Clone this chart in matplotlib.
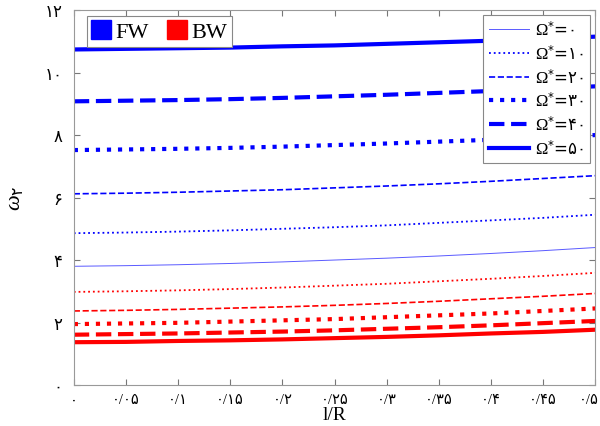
import matplotlib
matplotlib.use('Agg')
import matplotlib.pyplot as plt
import matplotlib.patches as patches
import matplotlib.transforms as mtransforms

plt.rcParams['font.family'] = ['Liberation Serif', 'DejaVu Sans']
# math text: digits from DejaVu Sans (has the Persian digits), letters serif
plt.rcParams['mathtext.fontset'] = 'custom'
plt.rcParams['mathtext.rm'] = 'DejaVu Sans'
plt.rcParams['mathtext.it'] = 'Liberation Serif:italic'
plt.rcParams['mathtext.bf'] = 'Liberation Serif'

# l/R samples and natural frequencies (forward / backward whirl)
l_R = [0.0, 0.05, 0.1, 0.15, 0.2, 0.25, 0.3, 0.35, 0.4, 0.45, 0.5]
omega_0 = [3.80, 3.82, 3.85, 3.89, 3.94, 4.00, 4.06, 4.13, 4.21, 4.30, 4.40]
fw_10 = [4.86, 4.88, 4.91, 4.95, 5.00, 5.05, 5.11, 5.19, 5.27, 5.35, 5.45]
fw_20 = [6.12, 6.14, 6.17, 6.21, 6.25, 6.31, 6.37, 6.44, 6.52, 6.61, 6.70]
fw_30 = [7.52, 7.54, 7.56, 7.59, 7.63, 7.68, 7.73, 7.79, 7.85, 7.92, 8.00]
fw_40 = [9.08, 9.10, 9.12, 9.15, 9.19, 9.24, 9.29, 9.35, 9.41, 9.48, 9.56]
fw_50 = [10.74, 10.76, 10.78, 10.80, 10.84, 10.87, 10.92, 10.97, 11.02, 11.08, 11.15]
bw_10 = [2.98, 3.00, 3.03, 3.07, 3.12, 3.18, 3.24, 3.32, 3.40, 3.49, 3.59]
bw_20 = [2.37, 2.39, 2.42, 2.46, 2.50, 2.55, 2.61, 2.68, 2.76, 2.84, 2.93]
bw_30 = [1.95, 1.97, 1.99, 2.03, 2.07, 2.11, 2.17, 2.23, 2.29, 2.37, 2.45]
bw_40 = [1.61, 1.63, 1.65, 1.68, 1.71, 1.75, 1.80, 1.85, 1.91, 1.98, 2.05]
bw_50 = [1.37, 1.38, 1.41, 1.43, 1.46, 1.50, 1.54, 1.59, 1.65, 1.70, 1.77]

speed_labels = ['۰', '۱۰', '۲۰', '۳۰', '۴۰', '۵۰']
x_ticks = [0.0, 0.05, 0.1, 0.15, 0.2, 0.25, 0.3, 0.35, 0.4, 0.45, 0.5]
x_tick_labels = ['۰', '۰/۰۵', '۰/۱', '۰/۱۵', '۰/۲', '۰/۲۵', '۰/۳', '۰/۳۵', '۰/۴', '۰/۴۵', '۰/۵']
y_ticks = [0, 2, 4, 6, 8, 10, 12]
y_tick_labels = ['۰', '۲', '۴', '۶', '۸', '۱۰', '۱۲']

# (linestyle, linewidth) per rotating speed
styles = [('-', 0.7), (':', 1.3), ('--', 1.2), (':', 3.0), ('--', 3.0), ('-', 3.0)]

fig = plt.figure(figsize=(6.0, 4.27), dpi=100)
ax = fig.add_axes([0.123, 0.096, 0.869, 0.878])

fw_sets = [omega_0, fw_10, fw_20, fw_30, fw_40, fw_50]
bw_sets = [None, bw_10, bw_20, bw_30, bw_40, bw_50]

line_handles = []
for i, (ls, lw) in enumerate(styles):
    color = '#5a5aff' if i == 0 else 'blue'
    h, = ax.plot(l_R, fw_sets[i], color=color, linestyle=ls, linewidth=lw)
    line_handles.append(h)
    if bw_sets[i] is not None:
        ax.plot(l_R, bw_sets[i], color='red', linestyle=ls, linewidth=lw)

ax.set_xlim(0, 0.5)
ax.set_ylim(0, 12)
ax.set_xticks(x_ticks)
ax.set_xticklabels(x_tick_labels, fontsize=10.5)
ax.set_yticks(y_ticks)
ax.set_yticklabels(y_tick_labels, fontsize=12)
ax.tick_params(direction='in', top=True, right=True, length=4, color='#777777')
ax.tick_params(axis='x', pad=6)
ax.tick_params(axis='y', pad=8)
for s in ax.spines.values():
    s.set_color('#999999')
    s.set_linewidth(0.8)

# keep the last x tick label inside the figure
last = ax.get_xticklabels()[-1]
last.set_transform(last.get_transform() +
                   mtransforms.ScaledTranslation(-0.06, 0, fig.dpi_scale_trans))

ax.set_xlabel('l/R', fontsize=14, labelpad=0)
ax.set_ylabel(r'$\omega_{۲}$', fontsize=16, labelpad=14)

# speed legend
names = [r'$\mathbf{\Omega}^{*}$=' + s for s in speed_labels]
leg1 = ax.legend(line_handles, names, loc='upper right', bbox_to_anchor=(0.99, 0.988),
                 borderaxespad=0, prop={'family': 'DejaVu Sans', 'size': 12},
                 fancybox=False, framealpha=1,
                 edgecolor='#888888', handlelength=2.4, labelspacing=0.3,
                 borderpad=0.35, handletextpad=0.4)
leg1.get_frame().set_linewidth(0.8)
ax.add_artist(leg1)

# whirl direction legend
sq = [patches.Patch(facecolor='blue', edgecolor='blue'),
      patches.Patch(facecolor='red', edgecolor='red')]
leg2 = ax.legend(sq, ['FW', 'BW'], loc='upper left', bbox_to_anchor=(0.025, 0.985),
                 borderaxespad=0, ncol=2, fontsize=16, fancybox=False, framealpha=1,
                 edgecolor='#888888', handlelength=0.9, handleheight=0.9,
                 handletextpad=0.2, columnspacing=0.8, borderpad=0.2)
leg2.get_frame().set_linewidth(0.8)

fig.savefig('out.png', dpi=100)
